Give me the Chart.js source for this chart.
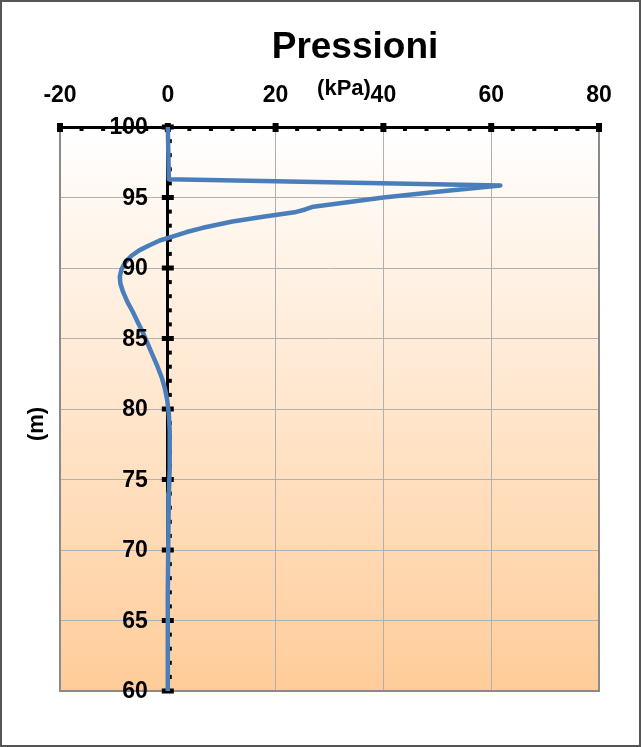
<!DOCTYPE html>
<html>
<head>
<meta charset="utf-8">
<script src="https://cdn.jsdelivr.net/npm/chart.js@4/dist/chart.umd.min.js"></script>
<style>
  html, body { margin: 0; padding: 0; background: #fff; }
  #wrap { width: 641px; height: 747px; position: relative; }
</style>
</head>
<body>
<div id="wrap"><canvas id="pressChart"></canvas></div>
<script>
// depth (m) and pressure (kPa)
var depths = [100, 96.3, 95.85, 95.4, 95.0, 94.65, 94.35, 94.15, 93.95, 93.65, 93.3, 92.85, 92.55, 92.25, 91.95, 91.6, 91.25, 90.85, 90.4, 89.9, 89.4, 88.9, 88.3, 87.6, 86.9, 86.1, 85.4, 84.6, 83.8, 83.0, 82.2, 81.4, 80.6, 79.6, 78.5, 77.2, 75.8, 74.0, 71.0, 67.0, 60.0];
var pressures = [0, 0.2, 61.7, 50, 40, 33, 27, 25.5, 23.5, 18, 12, 6.5, 3.5, 1, -1.5, -3.5, -5.3, -6.8, -7.9, -8.6, -8.9, -8.8, -8.3, -7.5, -6.5, -5.5, -4.6, -3.7, -2.8, -1.9, -1.1, -0.5, -0.1, 0.2, 0.35, 0.4, 0.3, 0.2, 0.1, 0, 0];

var xTicks = [-20, 0, 20, 40, 60, 80];
var yTicks = [60, 65, 70, 75, 80, 85, 90, 95, 100];

var chartTitle = "Pressioni";
var xTitle = "(kPa)";
var yTitle = "(m)";

var points = depths.map(function (d, i) {
  return { x: pressures[i], y: d };
});

var sansFamily = "'Liberation Sans', Arial, sans-serif";

// background gradient, frame, tick marks and texts
var decorPlugin = {
  id: "decor",
  beforeDraw: function (chart) {
    var ctx = chart.ctx;
    var a = chart.chartArea;
    ctx.save();
    ctx.fillStyle = "#ffffff";
    ctx.fillRect(0, 0, chart.width, chart.height);
    var g = ctx.createLinearGradient(0, a.top, 0, a.bottom);
    g.addColorStop(0, "rgb(255, 255, 255)");
    g.addColorStop(1, "rgb(255, 204, 153)");
    ctx.fillStyle = g;
    ctx.fillRect(a.left, a.top, a.right - a.left, a.bottom - a.top);
    ctx.restore();
  },
  beforeDatasetsDraw: function (chart) {
    var ctx = chart.ctx;
    var a = chart.chartArea;
    var xs = chart.scales.x;
    var ys = chart.scales.y;
    ctx.save();

    // plot-area frame (gray)
    ctx.strokeStyle = "#8a8a8a";
    ctx.lineWidth = 2;
    ctx.beginPath();
    ctx.moveTo(a.left, a.top);
    ctx.lineTo(a.left, a.bottom);
    ctx.lineTo(a.right, a.bottom);
    ctx.lineTo(a.right, a.top);
    ctx.stroke();

    ctx.fillStyle = "#000000";
    var x0 = xs.getPixelForValue(0);

    // x axis ticks: minor every 4, major every 20
    for (var v = -20; v <= 80; v += 4) {
      var px = xs.getPixelForValue(v);
      if (v % 20 === 0) {
        ctx.fillRect(px - 3, a.top - 4, 6, 9);
      } else {
        ctx.fillRect(px - 2, a.top, 4, 4);
      }
    }

    // y axis ticks: minor every 1, major every 5
    for (var d = 60; d <= 100; d += 1) {
      var py = ys.getPixelForValue(d);
      if (d % 5 === 0) {
        ctx.fillRect(x0 - 6, py - 2.5, 12, 5);
      } else {
        ctx.fillRect(x0, py - 2, 4, 4);
      }
    }
    ctx.restore();
  },
  afterDraw: function (chart) {
    var ctx = chart.ctx;
    var xs = chart.scales.x;
    var ys = chart.scales.y;
    var x0 = xs.getPixelForValue(0);
    ctx.save();

    // outer border
    ctx.strokeStyle = "#555555";
    ctx.lineWidth = 2;
    ctx.strokeRect(1, 1, chart.width - 2, chart.height - 2);

    ctx.fillStyle = "#000000";

    // y tick labels, left of the axis that crosses at x = 0
    ctx.font = "bold 23px " + sansFamily;
    ctx.textAlign = "right";
    ctx.textBaseline = "middle";
    yTicks.forEach(function (t) {
      ctx.fillText(String(t), x0 - 20, ys.getPixelForValue(t) + 1);
    });

    // titles
    ctx.textAlign = "center";
    ctx.font = "bold 37px " + sansFamily;
    ctx.fillText(chartTitle, 355, 48);
    ctx.font = "bold 22px " + sansFamily;
    ctx.fillText(xTitle, 344, 89);
    ctx.translate(37, 424);
    ctx.rotate(-Math.PI / 2);
    ctx.fillText(yTitle, 0, 0);
    ctx.restore();
  }
};

var ctx = document.getElementById("pressChart").getContext("2d");

var pressChart = new Chart(ctx, {
  type: "scatter",
  data: {
    datasets: [
      {
        label: "Pressioni",
        data: points,
        showLine: true,
        borderColor: "#4a7ebb",
        backgroundColor: "#4a7ebb",
        borderWidth: 4.5,
        pointRadius: 0,
        tension: 0,
        borderCapStyle: "round",
        borderJoinStyle: "round",
      },
    ],
  },
  options: {
    responsive: true,
    maintainAspectRatio: false,
    animation: false,
    layout: {
      padding: { left: 60, right: 42, top: 0, bottom: 56 },
    },
    scales: {
      x: {
        type: "linear",
        position: "top",
        min: -20,
        max: 80,
        afterBuildTicks: function (scale) {
          scale.ticks = xTicks.map(function (v) { return { value: v }; });
        },
        afterFit: function (scale) {
          scale.height = 127; // put the top axis line at y = 127
        },
        grid: {
          color: "#b0b0b0",
          lineWidth: 1,
          drawTicks: false,
        },
        border: {
          display: true,
          color: "#000000",
          width: 3,
        },
        ticks: {
          color: "#000000",
          font: { family: sansFamily, size: 23, weight: "bold" },
          padding: 18,
        },
      },
      y: {
        type: "linear",
        position: { x: 0 },
        min: 60,
        max: 100,
        afterBuildTicks: function (scale) {
          scale.ticks = yTicks.map(function (v) { return { value: v }; });
        },
        grid: {
          color: "#b0b0b0",
          lineWidth: 1,
          drawTicks: false,
        },
        border: {
          display: true,
          color: "#000000",
          width: 3,
        },
        ticks: {
          display: false,
        },
      },
    },
    plugins: {
      legend: { display: false },
      title: { display: false },
      tooltip: { enabled: false },
    },
  },
  plugins: [decorPlugin],
});
</script>
</body>
</html>
